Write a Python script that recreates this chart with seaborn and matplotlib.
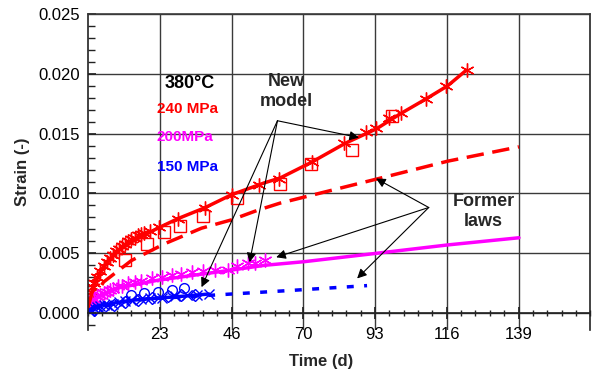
import numpy as np
import matplotlib
matplotlib.use('Agg')
import matplotlib.pyplot as plt
from matplotlib.ticker import MultipleLocator
import seaborn as sns

# 240 MPa (red)
red_exp_t = [0.5, 1, 1.5, 2, 3, 4, 5, 6, 7, 8, 9, 10, 11, 12, 13, 14, 15, 16, 17, 18, 20,
             23, 29, 37.6, 46.3, 55, 61.7, 72.3, 82.6, 89.7, 92.9, 97.1, 100.9, 109, 115.4, 122.1]
red_exp_y = [0.0012, 0.0018, 0.0022, 0.0025, 0.0030, 0.0035, 0.0039, 0.0043, 0.0046, 0.0049,
             0.0052, 0.0054, 0.0056, 0.0058, 0.0060, 0.0062, 0.0063, 0.0065, 0.0066, 0.0067,
             0.0069, 0.0072, 0.0079, 0.0088, 0.0099, 0.0107, 0.01125, 0.0126, 0.01425, 0.0151,
             0.0155, 0.0163, 0.01675, 0.0179, 0.0190, 0.0203]
red_sq_t = [12, 19, 24.5, 29.6, 37, 48, 62, 72, 85, 98]
red_sq_y = [0.0044, 0.0058, 0.0068, 0.0073, 0.0081, 0.0096, 0.0108, 0.0125, 0.0136, 0.0165]
red_model_t = [0, 2, 5, 9.6, 15, 22.5, 29, 37.6, 46.3, 57, 62, 72, 83, 93, 101, 109, 116, 122]
red_model_y = [0.0005, 0.0024, 0.0039, 0.0052, 0.0061, 0.0071, 0.0079, 0.0088, 0.0099,
               0.0109, 0.0113, 0.0126, 0.0142, 0.0154, 0.0167, 0.0179, 0.0190, 0.0203]
red_law_t = [0, 5, 14, 24.7, 36.6, 46.3, 54.7, 62, 93, 116, 139]
red_law_y = [0.0005, 0.0026, 0.0044, 0.0058, 0.0071, 0.0078, 0.0086, 0.0092, 0.0112,
             0.0127, 0.0139]

# 200 MPa (magenta)
mag_exp_t = [0.5, 1, 2, 3, 4, 5, 6, 7, 8, 9.6, 11, 13, 15, 17, 20.6, 24, 27, 30, 33.4,
             37, 41, 45, 48, 51.5, 54, 57]
mag_exp_y = [0.0008, 0.0010, 0.0012, 0.0014, 0.0015, 0.0017, 0.0018, 0.0019, 0.0020,
             0.0023, 0.0023, 0.0025, 0.0026, 0.0027, 0.0029, 0.0030, 0.0032, 0.0033,
             0.0034, 0.0035, 0.0036, 0.0036, 0.0039, 0.0042, 0.0042, 0.0044]
mag_line_t = [0, 2.2, 9.6, 22.5, 35, 46.3, 57, 69.7, 93, 116, 139]
mag_line_y = [0.0007, 0.0012, 0.0021, 0.00275, 0.0032, 0.0036, 0.0040, 0.0043, 0.0050,
              0.0057, 0.0063]

# 150 MPa (blue)
blue_x_t = [0.5, 1, 2, 3, 4, 5, 6, 8, 10, 12, 14, 17, 20, 24, 28, 32, 35, 39]
blue_x_y = [0.0002, 0.0003, 0.0004, 0.0005, 0.0006, 0.0007, 0.0007, 0.0008, 0.0009,
            0.0010, 0.0011, 0.0012, 0.00125, 0.0013, 0.0014, 0.0015, 0.0015, 0.0016]
blue_dia_t = [2, 5, 8.5, 11.9, 16, 20.6, 25.7, 30, 34.4]
blue_dia_y = [0.0003, 0.0005, 0.0007, 0.0009, 0.0011, 0.0013, 0.0014, 0.0015, 0.0015]
blue_circ_t = [14, 18, 22.5, 27, 31]
blue_circ_y = [0.0015, 0.0017, 0.0018, 0.0019, 0.0021]
blue_model_t = [0, 3, 9.6, 15, 22.5, 30, 39]
blue_model_y = [0.0002, 0.0006, 0.0009, 0.0011, 0.00125, 0.0014, 0.0016]
blue_law_t = [0, 10, 20, 40, 65.6, 90]
blue_law_y = [0.0002, 0.0009, 0.0012, 0.0015, 0.0019, 0.0023]

x_tick_labels = ['23', '46', '70', '93', '116', '139']

RED, MAG, BLUE = '#ff0000', '#ff00ff', '#0000ff'

sns.set_theme(style='white')
plt.rcParams['font.family'] = ['Liberation Sans', 'DejaVu Sans']

fig, ax = plt.subplots(figsize=(5.95, 3.69), dpi=100)
fig.subplots_adjust(left=0.148, right=0.992, top=0.962, bottom=0.106)

star = (6, 2, 0)

# model / law lines
sns.lineplot(x=red_law_t, y=red_law_y, ax=ax, color=RED, lw=2.5,
             linestyle=(0, (5, 2.5)), estimator=None, sort=False)
sns.lineplot(x=blue_law_t, y=blue_law_y, ax=ax, color=BLUE, lw=2.5,
             linestyle=(0, (2, 3)), estimator=None, sort=False)
sns.lineplot(x=mag_line_t, y=mag_line_y, ax=ax, color=MAG, lw=2.5,
             estimator=None, sort=False)

# experimental points
def pts(t, y, color, marker, ms, mew=1.0):
    sns.lineplot(x=t, y=y, ax=ax, linestyle='none', marker=marker, markersize=ms,
                 markeredgecolor=color, markerfacecolor='none', markeredgewidth=mew,
                 color=color, estimator=None, sort=False)

pts(red_sq_t, red_sq_y, RED, 's', 8)
pts(red_exp_t, red_exp_y, RED, star, 10)
pts(mag_exp_t, mag_exp_y, MAG, star, 10)
pts(blue_circ_t, blue_circ_y, BLUE, 'o', 7)
pts(blue_dia_t, blue_dia_y, BLUE, 'D', 6)
pts(blue_x_t, blue_x_y, BLUE, 'x', 7)

sns.lineplot(x=red_model_t, y=red_model_y, ax=ax, color=RED, lw=2.5,
             estimator=None, sort=False)
sns.lineplot(x=blue_model_t, y=blue_model_y, ax=ax, color=BLUE, lw=2.5,
             estimator=None, sort=False)

# axes
ax.set_xlim(0, 162)
ax.set_ylim(-0.0014, 0.025)
step = 162 / 7
ax.set_xticks([step * (i + 1) for i in range(6)])
ax.set_xticklabels(x_tick_labels)
ax.xaxis.set_minor_locator(MultipleLocator(step / 5))
ax.set_yticks([0.0, 0.005, 0.010, 0.015, 0.020, 0.025])
ax.set_yticklabels(['0.000', '0.005', '0.010', '0.015', '0.020', '0.025'])
ax.yaxis.set_minor_locator(MultipleLocator(0.001))
ax.grid(True, which='major', color='#3a3a3a', lw=1)
ax.set_axisbelow(True)

ax.spines['bottom'].set_position(('data', 0))
for s in ['left', 'right', 'top', 'bottom']:
    ax.spines[s].set_color('#222222')
    ax.spines[s].set_linewidth(1.2)
ax.spines['top'].set_color('#3a3a3a')

ax.tick_params(axis='x', which='both', direction='inout', bottom=True, colors='#222222',
               labelcolor='black', labelsize=12, pad=6)
ax.tick_params(axis='x', which='major', length=8)
ax.tick_params(axis='x', which='minor', length=5)
ax.tick_params(axis='y', which='both', direction='in', left=True, colors='#222222',
               labelcolor='black', labelsize=12, pad=6)
ax.tick_params(axis='y', which='minor', length=5)

ax.set_xlabel('Time (d)', fontsize=12, fontweight='bold', labelpad=2)
ax.set_ylabel('Strain (-)', fontsize=12, fontweight='bold', labelpad=6)
ax.xaxis.set_label_coords(0.465, -0.075)

# labels
ax.text(24.6, 0.0192, '380°C', fontsize=13, fontweight='bold', color='black', va='center')
ax.text(22.2, 0.0171, '240 MPa', fontsize=11, fontweight='bold', color=RED, va='center')
ax.text(22.2, 0.0147, '200MPa', fontsize=11, fontweight='bold', color=MAG, va='center')
ax.text(22.2, 0.01225, '150 MPa', fontsize=11, fontweight='bold', color=BLUE, va='center')
ax.text(64.0, 0.0185, 'New\nmodel', fontsize=13, fontweight='bold', ha='center',
        va='center', linespacing=1.2)
ax.text(127.6, 0.0085, 'Former\nlaws', fontsize=13, fontweight='bold', ha='center',
        va='center', linespacing=1.2)

arrow = dict(arrowstyle='-|>', mutation_scale=14, lw=0.8, color='black',
             shrinkA=0, shrinkB=0)
for tip in [(87.4, 0.01467), (52.1, 0.00425), (36.6, 0.00217)]:
    ax.annotate('', xy=tip, xytext=(61.1, 0.01608), arrowprops=arrow)
for tip in [(92.9, 0.01125), (60.7, 0.00467), (86.8, 0.0029)]:
    ax.annotate('', xy=tip, xytext=(109.9, 0.00883), arrowprops=arrow)

fig.savefig('out.png', dpi=100)
